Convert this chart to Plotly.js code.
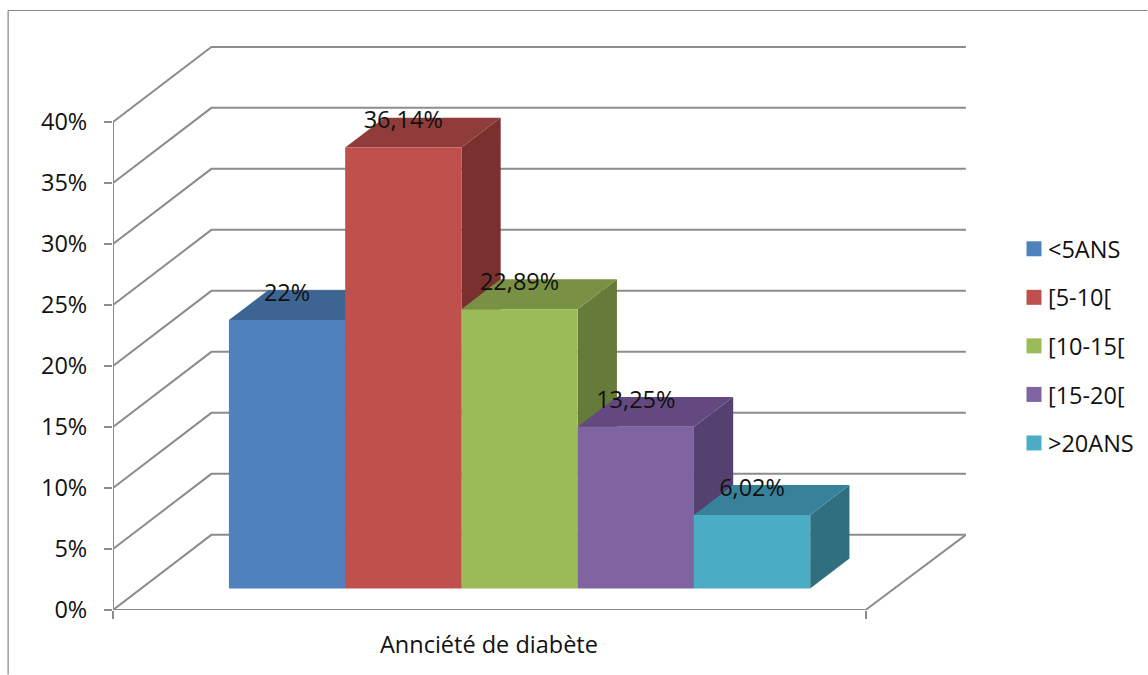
<!DOCTYPE html>
<html>
<head>
<meta charset="utf-8">
<script src="https://cdn.plot.ly/plotly-3.0.1.min.js"></script>
<style>html,body{margin:0;padding:0;background:#fff}</style>
</head>
<body>
<div id="chart" style="width:1148px;height:675px"></div>
<script>
// Diabetes duration distribution, drawn as an oblique 3D column chart.
const categories = ['<5ANS', '[5-10[', '[10-15[', '[15-20[', '>20ANS'];
const values = [22, 36.14, 22.89, 13.25, 6.02];
const valueLabels = ['22%', '36,14%', '22,89%', '13,25%', '6,02%'];
const frontColors = ['#4F81BD', '#C0504D', '#9BBB59', '#8064A2', '#4BACC6'];
const topColors = ['#3D6594', '#8F3C3A', '#789145', '#63497F', '#37829A'];
const sideColors = ['#345680', '#7A302E', '#667A3A', '#55416F', '#306F80'];
const yTicks = [0, 5, 10, 15, 20, 25, 30, 35, 40];
const yTickLabels = ['0%', '5%', '10%', '15%', '20%', '25%', '30%', '35%', '40%'];
const axisTitle = 'Annciété de diabète';

const FONT = '"Open Sans", "Noto Sans", sans-serif';
const FONT_SIZE = 23.5;
const GRID = '#8C8C8C';
const TEXT = '#111';

// Oblique projection: depth 0 is the front of the floor, depth 1 the back wall.
const DEPTH_X = 0.846, DEPTH_Y = 6.16;
const project = (x, v, d) => [x + d * DEPTH_X, v + d * DEPTH_Y];

const AXIS_END = 6.473, WALL_END = 6.49, FIRST_BAR = 1.255;
const BAR_FRONT = 0.286, BAR_BACK = 0.685;

function poly(points, color) {
  return {
    type: 'scatter', mode: 'lines', fill: 'toself', fillcolor: color,
    x: points.map(p => p[0]), y: points.map(p => p[1]),
    line: {width: 0, color: color}, showlegend: false, hoverinfo: 'skip'
  };
}

function path(points) {
  return {
    type: 'scatter', mode: 'lines',
    x: points.map(p => p[0]), y: points.map(p => p[1]),
    line: {color: GRID, width: 2}, showlegend: false, hoverinfo: 'skip'
  };
}

const traces = [];

// Wall gridlines with their return onto the left side panel.
yTicks.forEach(t => {
  traces.push(path([project(0, t, 0), project(0, t, 1), project(WALL_END, t, 1)]));
});
// Floor outline and value axis.
traces.push(path([project(WALL_END, 0, 1), project(AXIS_END, 0, 0), project(0, 0, 0)]));
traces.push(path([project(0, 0, 0), project(0, 40, 0)]));

// Columns, left to right so each one overlaps the side of the previous.
values.forEach((v, i) => {
  const l = FIRST_BAR + i - 0.5, r = l + 1;
  traces.push(poly([project(r, 0, BAR_FRONT), project(r, 0, BAR_BACK), project(r, v, BAR_BACK), project(r, v, BAR_FRONT)], sideColors[i]));
  traces.push(poly([project(l, v, BAR_FRONT), project(r, v, BAR_FRONT), project(r, v, BAR_BACK), project(l, v, BAR_BACK)], topColors[i]));
  traces.push(poly([project(l, 0, BAR_FRONT), project(r, 0, BAR_FRONT), project(r, v, BAR_FRONT), project(l, v, BAR_FRONT)], frontColors[i]));
});

// Value labels sit over the top face of each column.
traces.push({
  type: 'scatter', mode: 'text', showlegend: false, hoverinfo: 'skip',
  x: values.map((v, i) => project(FIRST_BAR + i, v, BAR_FRONT)[0]),
  y: values.map((v, i) => project(FIRST_BAR + i, v, BAR_FRONT)[1] + 2.05),
  text: valueLabels, textposition: 'middle center',
  textfont: {family: FONT, size: FONT_SIZE, color: TEXT}
});

// Legend entries.
categories.forEach((c, i) => {
  traces.push({
    type: 'scatter', mode: 'markers', name: c, legendgroup: c,
    x: [null], y: [null],
    marker: {symbol: 'square', size: 15, color: frontColors[i]}
  });
});

const M = {l: 112.5, r: 181.5, t: 36, b: 64.5};
const pxX = px => (px - M.l) / (1148 - M.l - M.r);
const pxY = py => 1 - (py - M.t) / (675 - M.t - M.b);

const layout = {
  width: 1148, height: 675, margin: M,
  paper_bgcolor: '#fff', plot_bgcolor: 'rgba(0,0,0,0)',
  showlegend: true,
  font: {family: FONT, size: FONT_SIZE, color: TEXT},
  xaxis: {
    range: [0, 7.337], showgrid: false, zeroline: false, showline: false,
    tickmode: 'array', tickvals: [0, AXIS_END], ticktext: ['', ''],
    ticks: 'outside', ticklen: 8, tickwidth: 2, tickcolor: GRID, fixedrange: true
  },
  yaxis: {
    range: [0, (610.5 - 36) / 12.21], showgrid: false, zeroline: false, showline: false,
    tickmode: 'array', tickvals: yTicks, ticktext: yTickLabels,
    ticks: 'outside', ticklen: 8, tickwidth: 2, tickcolor: GRID, fixedrange: true,
    ticklabelstandoff: 12,
    tickfont: {family: FONT, size: FONT_SIZE, color: TEXT}
  },
  legend: {
    xref: 'container', yref: 'container', x: 1014 / 1148, y: 1 - 227 / 675,
    xanchor: 'left', yanchor: 'top', bgcolor: 'rgba(0,0,0,0)',
    tracegroupgap: 15, font: {family: FONT, size: FONT_SIZE, color: TEXT}
  },
  annotations: [{
    xref: 'x', yref: 'paper', x: AXIS_END / 2, y: pxY(645), text: axisTitle, showarrow: false,
    xanchor: 'center', yanchor: 'middle', font: {family: FONT, size: FONT_SIZE, color: TEXT}
  }],
  shapes: [
    {type: 'line', xref: 'paper', yref: 'paper', x0: pxX(7.5), x1: pxX(7.5), y0: pxY(10.5), y1: pxY(675), line: {color: '#868686', width: 1.2}},
    {type: 'line', xref: 'paper', yref: 'paper', x0: pxX(7.5), x1: pxX(1148), y0: pxY(10.5), y1: pxY(10.5), line: {color: '#868686', width: 1.2}}
  ]
};

Plotly.newPlot('chart', traces, layout, {displayModeBar: false, staticPlot: true}).then(() => {
  // Pull legend text closer to its swatch.
  document.querySelectorAll('.legend .legendtext').forEach(t => {
    t.setAttribute('x', parseFloat(t.getAttribute('x')) - 6);
  });
});
</script>
</body>
</html>
